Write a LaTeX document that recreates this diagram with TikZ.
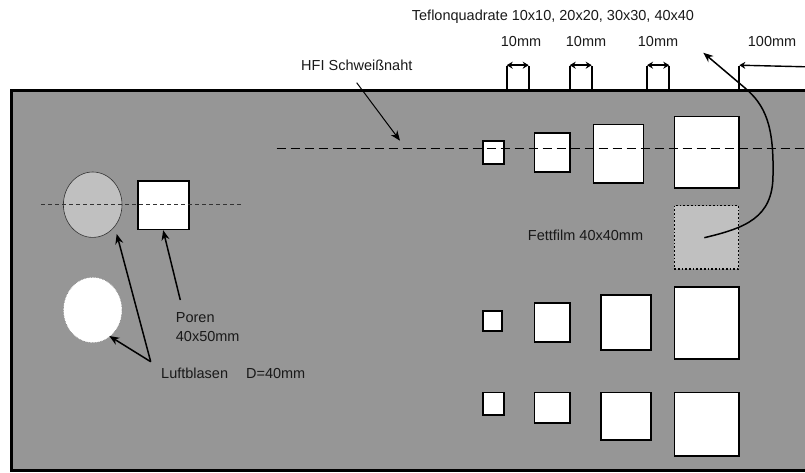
\documentclass[tikz,border=0pt]{standalone}
\usepackage{fontspec}
\setmainfont{Liberation Sans}
\usetikzlibrary{arrows.meta,shapes.geometric}
\definecolor{plate}{RGB}{150,150,150}
\definecolor{film}{RGB}{192,192,192}
\definecolor{ink}{RGB}{25,25,25}
\begin{document}
\begin{tikzpicture}[x=1pt,y=-1pt,
  lbl/.style={anchor=base west, inner sep=0, text=ink, font=\fontsize{14.5}{17}\selectfont},
  sqbox/.style={draw=black, line width=1.7pt, fill=white, inner sep=0, anchor=north west},
  pointer/.style={line width=1.5pt, -{Stealth[length=10pt,width=8pt]}},
  dimline/.style={line width=1.7pt},
  dimarrow/.style={line width=1.4pt, {Stealth[length=6pt,width=7pt]}-{Stealth[length=6pt,width=7pt]}},
  seam/.style={line width=1.1pt, dash pattern=on 9pt off 5pt},
  seamshort/.style={line width=1pt, dash pattern=on 4pt off 3pt, draw=black!80}]
\useasboundingbox (0,0) rectangle (805,473);
% plate
\draw[fill=plate, line width=2.6pt] (11.5,90.7) rectangle (840,470.5);

% left objects
\node[ellipse, draw=black!80, line width=0.6pt, fill=film, minimum width=58.6pt, minimum height=65.4pt, inner sep=0] (bubbleA) at (92.7,204.7) {};
\node[ellipse, draw=black!50, densely dotted, line width=0.6pt, fill=white, minimum width=58.6pt, minimum height=65.4pt, inner sep=0] (bubbleB) at (92.7,310) {};
\node[sqbox, minimum width=51pt, minimum height=48.5pt] (pore) at (136.8,180) {};

% squares row 1
\node[sqbox, minimum width=21pt, minimum height=23pt] (a1) at (482.1,140.1) {};
\node[sqbox, minimum width=35.6pt, minimum height=39pt] (a2) at (533.5,132.1) {};
\node[sqbox, minimum width=50pt, minimum height=58.6pt] (a3) at (592.5,123.8) {};
\node[sqbox, minimum width=64.3pt, minimum height=71.6pt] (a4) at (673.5,115.8) {};
\node[sqbox, draw=black, dotted, line width=1.4pt, fill=film, minimum width=64.3pt, minimum height=63.6pt] (fett) at (673.5,204.8) {};
% row 2
\node[sqbox, minimum width=19pt, minimum height=19.7pt] (b1) at (482.1,310.1) {};
\node[sqbox, minimum width=35.6pt, minimum height=39.3pt] (b2) at (533.5,302.1) {};
\node[sqbox, minimum width=50.3pt, minimum height=55.3pt] (b3) at (599.8,294.1) {};
\node[sqbox, minimum width=64.6pt, minimum height=72pt] (b4) at (673.5,285.8) {};
% row 3
\node[sqbox, minimum width=21pt, minimum height=22.9pt] (c1) at (482.1,391.5) {};
\node[sqbox, minimum width=35.6pt, minimum height=30.9pt] (c2) at (533.5,391.5) {};
\node[sqbox, minimum width=50.3pt, minimum height=47.3pt] (c3) at (599.8,391.5) {};
\node[sqbox, minimum width=64.6pt, minimum height=63.3pt] (c4) at (673.5,391.5) {};

% seams
\coordinate (seamL) at (276.7,148.3);
\coordinate (seamR) at (805,148.3);
\draw[seam] (seamL) -- (seamR);
\coordinate (sseamL) at (41,204.3);
\coordinate (sseamR) at (241.7,204.3);
\draw[seamshort] (sseamL) -- (sseamR);

% texts
\node[lbl] (teflon) at (411.7,21) {Teflonquadrate 10x10, 20x20, 30x30, 40x40};
\node[lbl] (m1) at (500.7,46.7) {10mm};
\node[lbl] (m2) at (565.7,46.7) {10mm};
\node[lbl] (m3) at (637.7,46.7) {10mm};
\node[lbl] (m4) at (747.7,46.7) {100mm};
\node[lbl] (hfi) at (301,70.7) {HFI Schweißnaht};
\node[lbl] (fetttext) at (527.7,240.7) {Fettfilm 40x40mm};
\node[lbl] (poren) at (175.7,322.3) {Poren};
\node[lbl] (porensize) at (175.7,341.7) {40x50mm};
\node[lbl] (luft) at (161,378.3) {Luftblasen\hspace{18pt}D=40mm};

% dimension brackets
\foreach \l/\r [count=\i] in {506.7/528.7, 569.7/591.7, 647/669.3} {
  \coordinate (dl\i) at (\l,66);
  \coordinate (dr\i) at (\r,66);
  \coordinate (bl\i) at (\l,90);
  \coordinate (br\i) at (\r,90);
  \draw[dimline] (bl\i) -- (dl\i);
  \draw[dimline] (br\i) -- (dr\i);
  \draw[dimarrow] ([yshift=0.8pt]dl\i) -- ([yshift=0.8pt]dr\i);
}
\coordinate (dl4) at (739.3,66);
\coordinate (bl4) at (739.3,90);
\coordinate (dr4) at (806,66.8);
\draw[dimline] (bl4) -- (dl4);
\draw[line width=1.4pt, -{Stealth[length=6pt,width=7pt]}] (dr4) -- ([yshift=0.8pt]dl4);

% pointers
\coordinate (hfiStart) at (356.7,82.7);
\coordinate (hfiEnd) at (400,140.7);
\draw[pointer, line width=1pt] (hfiStart) -- (hfiEnd);
\coordinate (porStart) at (180.3,300);
\draw[pointer] (porStart) -- (pore.south);
\coordinate (luftStart) at (150.7,361.7);
\coordinate (bubAEnd) at (116.7,234);
\coordinate (bubBEnd) at (109.3,336);
\draw[pointer] (luftStart) -- (bubAEnd);
\draw[pointer] (luftStart) -- (bubBEnd);

% curved arrow from fat film to teflon label
\coordinate (fettStart) at (704.3,237.7);
\coordinate (curveTip) at (703.3,52.7);
\draw[pointer] (fettStart) .. controls (745,228) and (773,218) .. (773,175)
  .. controls (774,125) and (765,105) .. (745,88) -- (curveTip);
\end{tikzpicture}
\end{document}
